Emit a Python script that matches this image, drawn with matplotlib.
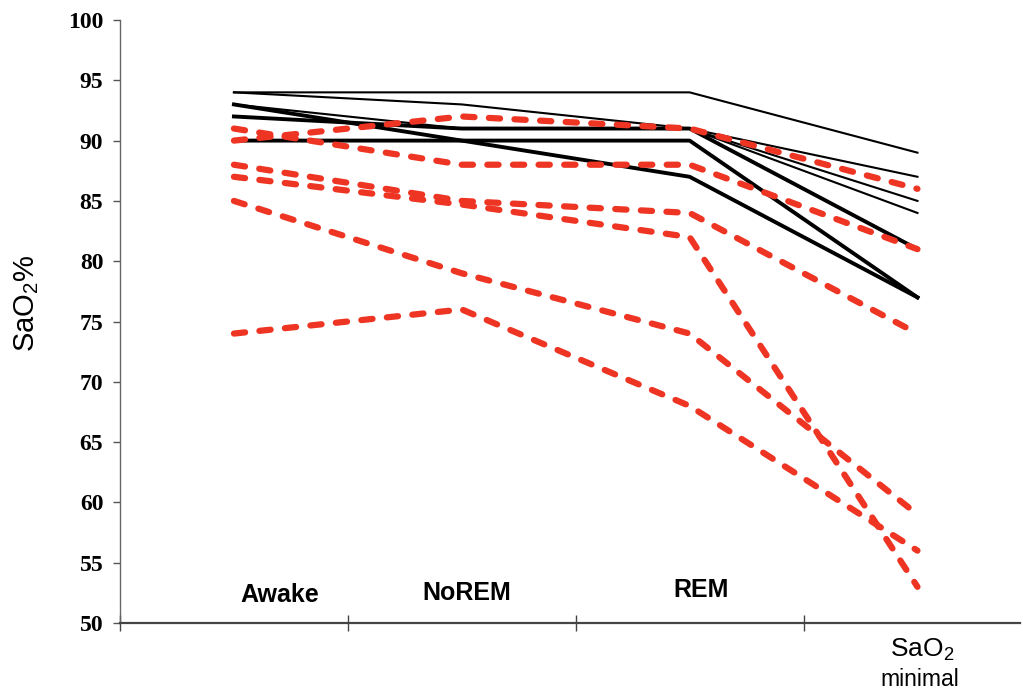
import matplotlib
matplotlib.use("Agg")
import matplotlib.pyplot as plt
import numpy as np

# ---- data ----
stages = ["Awake", "NoREM", "REM", "SaO2 minimal"]
stage_labels = ["Awake", "NoREM", "REM"]

# black (solid) series
black_thin = [
    [94, 94, 94, 89],
    [94, 93, 91, 87],
    [93, 91, 91, 85],
    [92, 91, 91, 84],
]
black_thick = [
    [93, 90, 87, 77],
    [92, 91, 91, 81],
    [90, 90, 90, 77],
]
# red (dashed) series
red_dashed = [
    [90, 92, 91, 86],
    [91, 88, 88, 81],
    [88, 85, 84, 74],
    [87, 84.7, 82, 53],
    [85, 79, 74, 59],
    [74, 76, 68, 56],
]
yticks = [50, 55, 60, 65, 70, 75, 80, 85, 90, 95, 100]

plt.rcParams['mathtext.fontset'] = 'custom'
plt.rcParams['mathtext.rm'] = 'Liberation Sans'
plt.rcParams['mathtext.it'] = 'Liberation Sans:italic'
plt.rcParams['mathtext.bf'] = 'Liberation Sans:bold'

fig = plt.figure(figsize=(10.23, 6.89), dpi=100)
ax = fig.add_axes([120/1023, 66/689, 900/1023, 603/689])

x = np.arange(len(stages))
red = '#EE3524'

for s in black_thin:
    ax.plot(x, s, color='black', lw=1.5, solid_joinstyle='round', zorder=2)
for s in black_thick:
    ax.plot(x, s, color='black', lw=2.8, solid_joinstyle='round', zorder=2)
for s in red_dashed:
    ax.plot(x, s, color=red, lw=4.5, linestyle=(0, (1.8, 2.3)),
            dash_capstyle='round', solid_joinstyle='round', zorder=3)

ax.set_xlim(-0.5, 3.45)
ax.set_ylim(50, 100)
ax.set_yticks(yticks)
ax.set_yticklabels([str(v) for v in yticks], fontfamily='Liberation Serif',
                   fontweight='bold', fontsize=17)
ax.tick_params(axis='y', direction='out', length=5, width=1.0, color='#555',
               pad=7)
ax.set_xticks([-0.5, 0.5, 1.5, 2.5])
ax.set_xticklabels([])
ax.tick_params(axis='x', direction='inout', length=11, width=1.0, color='#444')

for sp in ['top', 'right']:
    ax.spines[sp].set_visible(False)
ax.spines['left'].set_color('#666')
ax.spines['left'].set_linewidth(1.0)
ax.spines['bottom'].set_color('#444')
ax.spines['bottom'].set_linewidth(1.6)

# stage labels inside the axes
lab_x = [0.2, 1.02, 2.05]
lab_y = [52.3, 52.5, 52.7]
for lx, ly, t in zip(lab_x, lab_y, stage_labels):
    ax.text(lx, ly, t, ha='center', va='center', fontfamily='Liberation Sans',
            fontweight='bold', fontsize=18)

# last category label below the axis
ax.text(3.02, -0.056, 'SaO$_2$', transform=ax.get_xaxis_transform(),
        ha='center', va='baseline', fontfamily='Liberation Sans', fontsize=19)
ax.text(3.01, -0.104, 'minimal', transform=ax.get_xaxis_transform(),
        ha='center', va='baseline', fontfamily='Liberation Sans', fontsize=16.5)

ax.set_ylabel('SaO$_2$%', fontfamily='Liberation Sans', fontsize=21)
ax.yaxis.set_label_coords(-0.088, 0.53)

fig.savefig('out.png', dpi=100)
